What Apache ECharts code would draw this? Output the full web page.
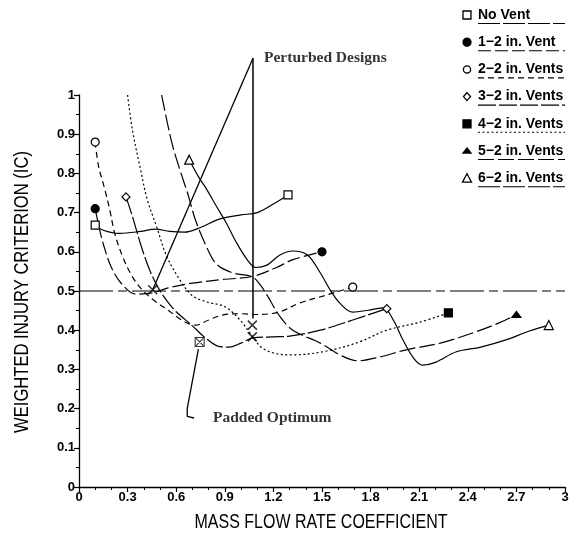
<!DOCTYPE html>
<html><head><meta charset="utf-8">
<script src="https://cdn.jsdelivr.net/npm/echarts@6/dist/echarts.min.js"></script>
<style>html,body{margin:0;padding:0;background:#fff}#c{width:574px;height:536px}</style>
</head><body><div id="c"></div>
<script>
// ---------- data ----------
const seriesNames = ['No Vent', '1\u22122 in. Vent', '2\u22122 in. Vents', '3\u22122 in. Vents', '4\u22122 in. Vents', '5\u22122 in. Vents', '6\u22122 in. Vents'];
const xTickLabels = ['0','0.3','0.6','0.9','1.2','1.5','1.8','2.1','2.4','2.7','3'];
const yTickLabels = ['0','0.1','0.2','0.3','0.4','0.5','0.6','0.7','0.8','0.9','1'];
const xAxisTitle = 'MASS FLOW RATE COEFFICIENT';
const yAxisTitle = 'WEIGHTED INJURY CRITERION (IC)';

const noVent = [[0.1,0.668],[0.15,0.655],[0.25,0.647],[0.38,0.652],[0.47,0.658],[0.56,0.652],[0.65,0.65],[0.75,0.662],[0.87,0.684],[1.0,0.694],[1.1,0.7],[1.2,0.722],[1.29,0.745]];
const vent1 = [[0.1,0.71],[0.12,0.67],[0.15,0.62],[0.2,0.56],[0.27,0.515],[0.35,0.492],[0.45,0.495],[0.55,0.508],[0.7,0.52],[0.9,0.53],[1.07,0.537],[1.22,0.56],[1.32,0.58],[1.5,0.6]];
const vent2 = [[0.1,0.88],[0.12,0.82],[0.16,0.758],[0.19,0.707],[0.22,0.648],[0.27,0.587],[0.33,0.536],[0.39,0.503],[0.46,0.477],[0.56,0.448],[0.65,0.422],[0.72,0.413],[0.8,0.426],[0.89,0.439],[1.0,0.442],[1.1,0.44],[1.24,0.447],[1.36,0.469],[1.53,0.49],[1.69,0.51]];
const vent3 = [[0.29,0.74],[0.33,0.69],[0.38,0.62],[0.43,0.56],[0.48,0.515],[0.53,0.482],[0.6,0.447],[0.69,0.415],[0.79,0.377],[0.87,0.358],[0.93,0.357],[1.0,0.367],[1.07,0.38],[1.2,0.383],[1.3,0.385],[1.49,0.4],[1.69,0.426],[1.9,0.455]];
const vent4 = [[0.3,1.0],[0.33,0.91],[0.38,0.81],[0.42,0.735],[0.48,0.663],[0.54,0.59],[0.62,0.53],[0.7,0.488],[0.79,0.472],[0.9,0.46],[0.99,0.428],[1.06,0.39],[1.13,0.355],[1.22,0.34],[1.32,0.337],[1.53,0.347],[1.73,0.37],[1.9,0.4],[2.1,0.42],[2.28,0.444]];
const vent5 = [[0.51,1.0],[0.55,0.92],[0.58,0.867],[0.63,0.8],[0.67,0.75],[0.72,0.68],[0.79,0.61],[0.85,0.568],[0.95,0.546],[1.07,0.536],[1.12,0.515],[1.16,0.49],[1.24,0.435],[1.32,0.4],[1.49,0.367],[1.61,0.337],[1.72,0.322],[1.86,0.332],[2.02,0.35],[2.23,0.367],[2.43,0.393],[2.6,0.42],[2.7,0.44]];
const vent6 = [[0.68,0.835],[0.74,0.79],[0.79,0.758],[0.85,0.715],[0.91,0.673],[0.97,0.625],[1.04,0.579],[1.09,0.56],[1.16,0.566],[1.24,0.592],[1.32,0.602],[1.41,0.592],[1.49,0.546],[1.55,0.503],[1.61,0.469],[1.69,0.446],[1.8,0.452],[1.88,0.457],[1.94,0.426],[2.0,0.375],[2.06,0.332],[2.12,0.311],[2.2,0.318],[2.33,0.345],[2.48,0.357],[2.64,0.376],[2.78,0.398],[2.9,0.413]];

const refLine = [[0,0.5],[3,0.5]];
const perturbedPoints = [[0.455,0.503],[1.07,0.413],[1.07,0.383]];
const perturbedAnchor = [1.074,1.094];
const perturbedVerticalEnd = [1.074,0.43];
const paddedPoint = [[0.745,0.37]];
const paddedPointer = [[0.737,0.352],[0.668,0.2],[0.668,0.18],[0.71,0.176]];
const annotationLabels = ['Perturbed Designs','Padded Optimum'];

// ---------- styles ----------
const curves = [noVent, vent1, vent2, vent3, vent4, vent5, vent6];
const styles = [
  {dash:'solid', start:{s:'rect', f:'#fff', z:8}, end:{s:'rect', f:'#fff', z:8}},
  {dash:[13,4], start:{s:'circle', f:'#000', z:8}, end:{s:'circle', f:'#000', z:8}},
  {dash:[6,4], start:{s:'circle', f:'#fff', z:8}, end:{s:'circle', f:'#fff', z:8}},
  {dash:[18,3], start:{s:'diamond', f:'#fff', z:8}, end:{s:'diamond', f:'#fff', z:8}},
  {dash:[2,2.5], start:null, end:{s:'rect', f:'#000', z:8}},
  {dash:[16,4], start:null, end:{s:'triangle', f:'#000', z:[9,6]}},
  {dash:'solid', start:{s:'triangle', f:'#fff', z:9}, end:{s:'triangle', f:'#fff', z:9}}
];

function mk(p, sym) {
  if (!sym) return {value:p, symbol:'none'};
  return {value:p, symbol:sym.s, symbolSize:sym.z,
    itemStyle:{color:sym.f, borderColor:'#000', borderWidth:1.2, opacity:1}};
}

const series = curves.map((c, k) => ({
  name: seriesNames[k], type:'line', smooth:0.35, showSymbol:true, showAllSymbol:true,
  data: c.map((p,i) => mk(p, i===0 ? styles[k].start : (i===c.length-1 ? styles[k].end : null))),
  lineStyle:{color:'#000', width:1.2, type:styles[k].dash},
  itemStyle:{color:'#000'}, z:3, silent:true
}));

series.push({type:'line', data:refLine, symbol:'none', lineStyle:{color:'#000', width:1.2, type:[34,5,9,5]}, z:2, silent:true});
series.push({type:'scatter', data:perturbedPoints, symbol:'path://M0,0L10,10M10,0L0,10', symbolSize:9,
  itemStyle:{color:'none', borderColor:'#000', borderWidth:1.5}, z:5, silent:true});
series.push({type:'scatter', data:paddedPoint, symbol:'path://M0,0L10,0L10,10L0,10ZM1,1L9,9M9,1L1,9', symbolSize:9,
  itemStyle:{color:'#fff', borderColor:'#000', borderWidth:1.1}, z:5, silent:true});
perturbedPoints.slice(0,1).forEach(p => series.push({type:'line', clip:false, data:[perturbedAnchor, p], symbol:'none', lineStyle:{color:'#000', width:1.3}, z:4, silent:true}));
series.push({type:'line', clip:false, data:[perturbedAnchor, perturbedVerticalEnd], symbol:'none', lineStyle:{color:'#000', width:1.5}, z:4, silent:true});
series.push({type:'line', clip:false, data:paddedPointer, symbol:'none', lineStyle:{color:'#000', width:1.3}, z:4, silent:true});
const annFont = {fontFamily:'Liberation Serif', fontWeight:'bold', fontSize:15.5, color:'#000'};
series.push({type:'scatter', clip:false, symbolSize:0, data:[perturbedAnchor],
  label:{show:true, position:'right', distance:11, formatter:annotationLabels[0], ...annFont}, silent:true});
series.push({type:'scatter', clip:false, symbolSize:0, data:[paddedPointer[paddedPointer.length-1]],
  label:{show:true, position:'right', distance:19, formatter:annotationLabels[1], ...annFont}, silent:true});

// ---------- legend (graphic) ----------
function legendMarker(sym, x, y) {
  const st = {fill:sym.f, stroke:'#000', lineWidth:1.3};
  if (sym.s === 'rect') return {type:'rect', shape:{x:x-4, y:y-4, width:8, height:8}, style:st};
  if (sym.s === 'circle') return {type:'circle', shape:{cx:x, cy:y, r:sym.f==='#000'?4:3.6}, style:st};
  if (sym.s === 'diamond') return {type:'polygon', shape:{points:[[x,y-4],[x+3.5,y],[x,y+4],[x-3.5,y]]}, style:st};
  if (sym.s === 'triangle' && sym.f === '#000') return {type:'polygon', shape:{points:[[x,y-3],[x+4,y+2],[x-4,y+2]]}, style:st};
  return {type:'polygon', shape:{points:[[x,y-4.5],[x+4.5,y+4],[x-4.5,y+4]]}, style:st};
}
const graphic = [];
seriesNames.forEach((n, i) => {
  const y = 15 + 27.2 * i;
  const sym = styles[i].end;
  graphic.push(legendMarker(sym, 467, y));
  graphic.push({type:'text', x:478, y:y, style:{text:n, font:'bold 14px "Liberation Sans"', fill:'#000', textVerticalAlign:'middle'}});
  graphic.push({type:'line', shape:{x1:478, y1:y+8.5, x2:565, y2:y+8.5},
    style:{stroke:'#000', lineWidth:1.1, lineDash: styles[i].dash === 'solid' ? [22,3] : styles[i].dash}});
});
graphic.push({type:'text', x:321, y:522, scaleX:0.8, style:{text:xAxisTitle, font:'20px "Liberation Sans"', fill:'#000', textAlign:'center', textVerticalAlign:'middle'}});
graphic.push({type:'text', x:22, y:292, rotation:Math.PI/2, scaleX:0.83, style:{text:yAxisTitle, font:'20px "Liberation Sans"', fill:'#000', textAlign:'center', textVerticalAlign:'middle'}});

const axisLabelStyle = {color:'#000', fontFamily:'Liberation Sans', fontWeight:'bold', fontSize:13};
const option = {
  animation:false,
  backgroundColor:'#fff',
  grid:{left:79, right:9, top:95, bottom:49},
  xAxis:{type:'value', min:0, max:3, interval:0.3,
    axisLine:{show:true, lineStyle:{color:'#000', width:1.3}},
    axisTick:{show:true, length:5, lineStyle:{color:'#000', width:1.2}},
    minorTick:{show:true, splitNumber:3, length:3, lineStyle:{color:'#000', width:1}},
    splitLine:{show:false},
    axisLabel:{...axisLabelStyle, margin:4, formatter:(v)=>xTickLabels[Math.round(v/0.3)]}},
  yAxis:{type:'value', min:0, max:1, interval:0.1,
    axisLine:{show:true, lineStyle:{color:'#000', width:1.3}},
    axisTick:{show:true, length:5, lineStyle:{color:'#000', width:1.2}},
    minorTick:{show:true, splitNumber:2, length:3, lineStyle:{color:'#000', width:1}},
    splitLine:{show:false},
    axisLabel:{...axisLabelStyle, margin:4, formatter:(v)=>yTickLabels[Math.round(v/0.1)]}},
  graphic: graphic,
  series: series
};
const chart = echarts.init(document.getElementById('c'), null, {renderer:'canvas'});
chart.setOption(option);
</script></body></html>
